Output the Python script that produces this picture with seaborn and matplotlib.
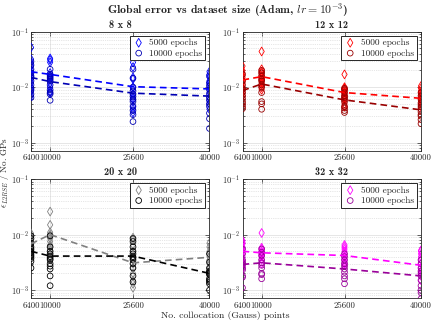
import numpy as np
import pandas as pd
import matplotlib
matplotlib.use("Agg")
import matplotlib.pyplot as plt
from matplotlib.ticker import LogLocator, NullFormatter, FixedLocator
import seaborn as sns

# Datos
n_points = [6400, 10000, 25600, 40000]
epochs = ["5000 epochs", "10000 epochs"]
grids = ["8 x 8", "12 x 12", "20 x 20", "32 x 32"]

# 8 x 8
g8_e5000 = [
    [0.052, 0.032, 0.027, 0.024, 0.020, 0.018, 0.016, 0.014, 0.012, 0.010, 0.0085, 0.007],
    [0.033, 0.031, 0.028, 0.018, 0.016, 0.015, 0.014, 0.012, 0.010, 0.0085, 0.008],
    [0.028, 0.023, 0.015, 0.014, 0.010, 0.009, 0.0075, 0.0065, 0.006, 0.0045, 0.004, 0.0035],
    [0.019, 0.017, 0.015, 0.013, 0.012, 0.011, 0.0095, 0.008, 0.0065, 0.0058, 0.005, 0.004],
]
g8_e10000 = [
    [0.029, 0.025, 0.021, 0.018, 0.016, 0.015, 0.013, 0.011, 0.0095, 0.0088, 0.0075, 0.0065],
    [0.021, 0.017, 0.016, 0.015, 0.014, 0.013, 0.011, 0.009, 0.008, 0.0075, 0.0058],
    [0.021, 0.0145, 0.010, 0.0085, 0.0075, 0.0068, 0.006, 0.0055, 0.0045, 0.0038, 0.0032, 0.0024],
    [0.016, 0.012, 0.0105, 0.009, 0.0075, 0.0065, 0.0058, 0.005, 0.0045, 0.0034, 0.0027, 0.0018],
]
g8_mean5000 = [0.019, 0.017, 0.0102, 0.0093]
g8_mean10000 = [0.015, 0.0126, 0.0078, 0.0069]

# 12 x 12
g12_e5000 = [
    [0.024, 0.020, 0.018, 0.016, 0.015, 0.013, 0.012, 0.010, 0.009, 0.008, 0.007],
    [0.044, 0.021, 0.019, 0.018, 0.016, 0.015, 0.014, 0.013, 0.012, 0.011, 0.010, 0.009],
    [0.017, 0.010, 0.0095, 0.009, 0.0085, 0.008, 0.0075, 0.007, 0.0065, 0.006, 0.005, 0.0045],
    [0.0105, 0.0095, 0.0085, 0.008, 0.0075, 0.007, 0.0065, 0.006, 0.0055, 0.005, 0.0045],
]
g12_e10000 = [
    [0.017, 0.013, 0.011, 0.0095, 0.009, 0.008, 0.007, 0.0062, 0.0055, 0.005, 0.0045, 0.0041],
    [0.020, 0.018, 0.016, 0.014, 0.013, 0.011, 0.010, 0.008, 0.0055, 0.005, 0.004],
    [0.0095, 0.009, 0.008, 0.007, 0.0065, 0.006, 0.0055, 0.0045, 0.0042, 0.0038, 0.0035],
    [0.008, 0.007, 0.006, 0.0052, 0.0048, 0.0044, 0.004, 0.0036, 0.0032, 0.003, 0.0026, 0.0022],
]
g12_mean5000 = [0.0135, 0.0155, 0.008, 0.0063]
g12_mean10000 = [0.0087, 0.0114, 0.0059, 0.0039]

# 20 x 20
g20_e5000 = [
    [0.0105, 0.0095, 0.009, 0.008, 0.0075, 0.007, 0.0065, 0.006, 0.0055, 0.005, 0.0045, 0.004],
    [0.026, 0.015, 0.011, 0.010, 0.0095, 0.0085, 0.0075, 0.0065, 0.006, 0.0052, 0.0045, 0.004],
    [0.0088, 0.008, 0.0065, 0.005, 0.004, 0.0035, 0.003, 0.0025, 0.002, 0.0015, 0.0013, 0.0011],
    [0.007, 0.006, 0.005, 0.0045, 0.004, 0.0035, 0.003, 0.0025, 0.0021, 0.0019, 0.0015],
]
g20_e10000 = [
    [0.0095, 0.0085, 0.007, 0.006, 0.0055, 0.005, 0.0047, 0.0043, 0.004, 0.0037, 0.0033, 0.0025],
    [0.0095, 0.006, 0.005, 0.0045, 0.004, 0.0037, 0.0035, 0.003, 0.0027, 0.0024, 0.0018, 0.0012],
    [0.0085, 0.0075, 0.006, 0.005, 0.0045, 0.004, 0.0038, 0.0035, 0.003, 0.0025, 0.0018, 0.0014],
    [0.0045, 0.0032, 0.0025, 0.0022, 0.0021, 0.002, 0.0019, 0.0016, 0.0015, 0.0014, 0.0013, 0.001],
]
g20_mean5000 = [0.0068, 0.0100, 0.0031, 0.0039]
g20_mean10000 = [0.0050, 0.0041, 0.0041, 0.0020]

# 32 x 32
g32_e5000 = [
    [0.0078, 0.0072, 0.0068, 0.006, 0.0055, 0.005, 0.0045, 0.004, 0.0035, 0.003, 0.0025],
    [0.0107, 0.0058, 0.0055, 0.005, 0.0047, 0.0044, 0.0042, 0.004, 0.0035, 0.003],
    [0.0065, 0.006, 0.0055, 0.005, 0.0045, 0.004, 0.0035, 0.0032, 0.003, 0.0028],
    [0.0052, 0.005, 0.0045, 0.004, 0.0035, 0.003, 0.0025, 0.0022, 0.002, 0.0018, 0.0015],
]
g32_e10000 = [
    [0.0055, 0.0045, 0.0035, 0.0032, 0.003, 0.0028, 0.0025, 0.0023, 0.0018, 0.0017, 0.0011],
    [0.0055, 0.0048, 0.0042, 0.0035, 0.0031, 0.0028, 0.0025, 0.002, 0.0019, 0.0016],
    [0.0045, 0.004, 0.0035, 0.003, 0.0027, 0.0024, 0.0021, 0.0018, 0.0016, 0.0013],
    [0.0035, 0.003, 0.0025, 0.0022, 0.002, 0.0018, 0.0015, 0.0012, 0.001, 0.0009, 0.0007],
]
g32_mean5000 = [0.0050, 0.0047, 0.0042, 0.0028]
g32_mean10000 = [0.0029, 0.0031, 0.0024, 0.0018]

panels = [
    (g8_e5000, g8_e10000, g8_mean5000, g8_mean10000, "#0000ff", "#0000b3"),
    (g12_e5000, g12_e10000, g12_mean5000, g12_mean10000, "#ff0000", "#990000"),
    (g20_e5000, g20_e10000, g20_mean5000, g20_mean10000, "#808080", "#000000"),
    (g32_e5000, g32_e10000, g32_mean5000, g32_mean10000, "#ff00ff", "#990099"),
]

sns.set_style("ticks")
plt.rcParams["font.family"] = ["cmr10", "DejaVu Serif"]
plt.rcParams["mathtext.fontset"] = "cm"
plt.rcParams["axes.formatter.use_mathtext"] = True
plt.rcParams["axes.unicode_minus"] = False

fig, axes = plt.subplots(2, 2, figsize=(4.34, 3.25), dpi=100)
fig.subplots_adjust(left=31/434, right=421/434, top=1-31.7/325, bottom=1-298/325,
                    wspace=0.185, hspace=0.24)

for ax, grid, (s5, s10, m5, m10, c5, c10) in zip(axes.flat, grids, panels):
    # tabla larga para seaborn
    rows = []
    for xi, vals in zip(n_points, s5):
        rows += [(xi, v, epochs[0]) for v in vals]
    for xi, vals in zip(n_points, s10):
        rows += [(xi, v, epochs[1]) for v in vals]
    df = pd.DataFrame(rows, columns=["N", "err", "Epochs"])

    d5 = df[df["Epochs"] == epochs[0]]
    d10 = df[df["Epochs"] == epochs[1]]
    sns.scatterplot(data=d5, x="N", y="err", ax=ax, marker="d", s=20, color=c5,
                    facecolor="none", edgecolor=c5, linewidth=0.6, label=epochs[0], zorder=3)
    sns.scatterplot(data=d10, x="N", y="err", ax=ax, marker="o", s=17, color=c10,
                    facecolor="none", edgecolor=c10, linewidth=0.6, label=epochs[1], zorder=3)
    sns.lineplot(x=n_points, y=m5, ax=ax, color=c5, linestyle=(0, (4, 2.5)), lw=1.2,
                 estimator=None, zorder=4)
    sns.lineplot(x=n_points, y=m10, ax=ax, color=c10, linestyle=(0, (4, 2.5)), lw=1.2,
                 estimator=None, zorder=4)

    ax.set_yscale("log")
    ax.set_ylim(7.2e-4, 0.1)
    ax.set_xlim(6400, 40000)
    ax.xaxis.set_major_locator(FixedLocator(n_points))
    ax.set_xticklabels([str(v) for v in n_points])
    ax.yaxis.set_major_locator(LogLocator(base=10, numticks=10))
    ax.yaxis.set_minor_locator(LogLocator(base=10, subs=np.arange(2, 10), numticks=10))
    ax.yaxis.set_minor_formatter(NullFormatter())
    ax.tick_params(which="both", direction="in", top=True, right=True, labelsize=6.3,
                   width=0.5, pad=2.5, colors="#262626")
    ax.tick_params(axis="y", which="major", pad=1.5, labelsize=6.1)
    ax.tick_params(which="major", length=3)
    ax.tick_params(which="minor", length=1.5)
    ax.grid(True, which="major", color="#dcdcdc", lw=0.5, ls="-")
    ax.grid(True, which="minor", axis="y", color="#cfcfcf", lw=0.5, ls=":")
    ax.set_axisbelow(True)
    for sp in ax.spines.values():
        sp.set_linewidth(0.6)
        sp.set_color("#262626")
    ax.set_xlabel("")
    ax.set_ylabel("")
    ax.set_title(grid, fontsize=7.5, family="cmb10", pad=3)
    leg = ax.legend(loc="upper right", fontsize=6.7, frameon=True, fancybox=False,
                    framealpha=1, edgecolor="#262626", borderpad=0.3, labelspacing=0.2,
                    handletextpad=0.5, handlelength=1.3, borderaxespad=0.45)
    leg.get_frame().set_linewidth(0.7)

fig.suptitle(r"Global error vs dataset size (Adam, $lr = 10^{-3}$)", fontsize=8.5,
             family="cmb10", x=0.525, y=0.998, va="top")
fig.text(0.0115, 0.47, r"$\bar{\epsilon}_{L2RSE}$ / No. GPs", rotation=90, fontsize=6.5,
         ha="center", va="center")
fig.text(0.52, 0.028, "No. collocation (Gauss) points", fontsize=7, ha="center", va="center")

fig.savefig("out.png", dpi=100)
